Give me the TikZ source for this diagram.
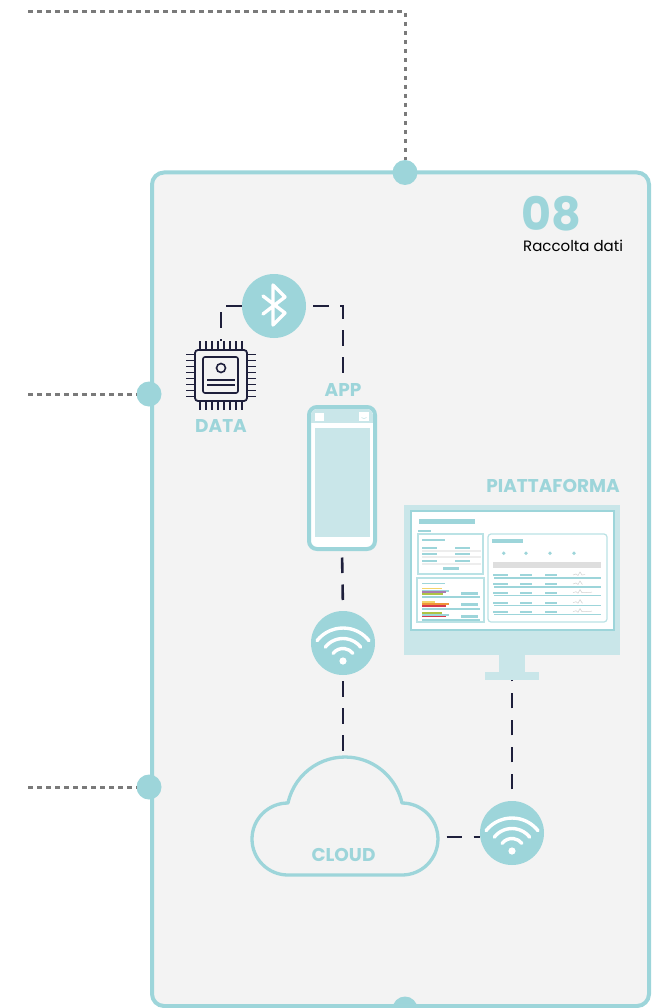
\documentclass[tikz,border=0pt]{standalone}
\usepackage{fontspec}
\setmainfont{Poppins}
\usetikzlibrary{positioning}

\definecolor{aqua}{HTML}{9DD5DA}
\definecolor{aqualight}{HTML}{C9E6E9}
\definecolor{panelgray}{HTML}{F3F3F3}
\definecolor{ink}{HTML}{1E1F3B}
\definecolor{dotgray}{HTML}{7A7A7A}
\definecolor{baryellow}{HTML}{F3D46A}
\definecolor{barpurple}{HTML}{A87DB2}
\definecolor{bargreen}{HTML}{AFC444}
\definecolor{barorange}{HTML}{EF9538}
\definecolor{barred}{HTML}{D63A4C}

\tikzset{
  link/.style={draw=ink,line width=2.6pt,dash pattern=on 15.5pt off 11.5pt},
  trail/.style={draw=dotgray,line width=3pt,dash pattern=on 4.5pt off 4.5pt},
  joint/.style={circle,fill=aqua,minimum size=25pt,inner sep=0pt},
  badge/.style={circle,fill=aqua,minimum size=64pt,inner sep=0pt},
  glyph/.style={white,line width=3.4pt,line cap=round,line join=round},
  tagtext/.style={text=aqua,font=\bfseries\fontsize{18.5}{18.5}\selectfont,inner sep=0pt},
  paneline/.style={aqua,line width=1.6pt},
}

\begin{document}
\begin{tikzpicture}[x=1pt,y=-1pt]
\useasboundingbox (0,0) rectangle (656,1008);

% step panel
\draw[aqua,line width=4pt,fill=panelgray,rounded corners=12pt] (152,172.5) rectangle (649,1006);
\node[joint] (jtop) at (405,172.5) {};
\node[joint] (jdata) at (149,394) {};
\node[joint] (jcloud) at (149,787) {};
\node[joint] (jbottom) at (405,1009) {};

\coordinate (ttop) at (28,12);
\coordinate (tdata) at (28,394);
\coordinate (tcloud) at (28,787);
\draw[trail] (ttop) -| (jtop.north);
\draw[trail] (tdata) -- (jdata.west);
\draw[trail] (tcloud) -- (jcloud.west);

\node[text=aqua,font=\bfseries\fontsize{46}{46}\selectfont,anchor=base west,inner sep=0pt,text depth=0pt] (stepno) at (521,230) {08};
\node[font=\fontsize{15}{15}\selectfont,anchor=base west,inner sep=0pt] (steptitle) at (523,251.5) {Raccolta dati};

% bluetooth
\node[badge] (bt) at (274,306) {};
\begin{scope}[shift={(bt.center)}]
  \draw[glyph] (-11,-10) -- (11,7) -- (-1,19) -- (-1,-21) -- (11,-9) -- (-11,8);
\end{scope}

% chip
\node[draw=ink,line width=1.8pt,rounded corners=3pt,minimum width=52pt,minimum height=51pt,inner sep=0pt] (chip) at (221,375.5) {};
\foreach \d in {-21,-15,-9,-3,3,9,15,21} {
  \draw[ink,line width=1.6pt] ([xshift=\d pt]chip.north) -- ++(0,-8);
  \draw[ink,line width=1.6pt] ([xshift=\d pt]chip.south) -- ++(0,8);
  \draw[ink,line width=1.6pt] ([yshift=\d pt]chip.west) -- ++(-8,0);
  \draw[ink,line width=1.6pt] ([yshift=\d pt]chip.east) -- ++(8,0);
}
\begin{scope}[shift={(chip.center)}]
  \draw[ink,line width=1.6pt,rounded corners=2pt] (-18,-18.5) rectangle (17,17.5);
  \draw[ink,line width=1.6pt] (0,-7.5) circle (4.5);
  \draw[ink,line width=1.6pt] (-14,4.5) -- (14,4.5) (-14,9.5) -- (14,9.5);
\end{scope}
\node[tagtext] (datatag) at (221,426) {DATA};

% phone
\node[tagtext] (apptag) at (343,390) {APP};
\node[draw=aqua,line width=4pt,fill=white,rounded corners=8pt,minimum width=66pt,minimum height=142pt,inner sep=0pt] (phone) at (342,478) {};
\begin{scope}
  \clip[rounded corners=6pt] (311,409) rectangle (373,547);
  \fill[aqualight] (311,409) rectangle (373,423);
  \fill[white] (315,413) rectangle (324,421);
  \fill[white] (359,412) rectangle (369,421);
  \draw[aqualight,line width=0.6pt] (361.5,417.5) .. controls (363,419) and (365,419) .. (366.5,417.5);
  \fill[aqualight] (315,428) rectangle (370,537);
\end{scope}

% wifi badges
\node[badge] (wifia) at (343,643) {};
\node[badge] (wifib) at (512,833) {};
\foreach \w in {wifia,wifib} {
  \begin{scope}[shift={(\w.center)}]
    \fill[white] (0,18) circle (3.6);
    \foreach \r in {12.5,22.5,33}
      \draw[glyph] (0,18) ++(218:\r) arc[start angle=218,end angle=322,radius=\r];
  \end{scope}
}

% cloud
\draw[aqua,line width=3.3pt,line join=round] (288,875) arc[start angle=90,end angle=270,radius=36]
  arc[start angle=192.2,end angle=347.8,radius=58.3]
  arc[start angle=270,end angle=450,radius=36] -- cycle;
\coordinate (cloudtop) at (343,757);
\coordinate (cloudright) at (438,837);
\node[tagtext] (cloudtag) at (343.5,855) {CLOUD};

% monitor
\node[tagtext] (platformtag) at (553,485.5) {PIATTAFORMA};
\node[fill=aqualight,minimum width=216pt,minimum height=150pt,inner sep=0pt] (monitor) at (512,580) {};
\fill[aqualight] (499,655) rectangle (525,673);
\node[fill=aqualight,minimum width=54pt,minimum height=8pt,inner sep=0pt] (stand) at (512,676) {};
\draw[aqua,line width=2.5pt,fill=white] (411,511) rectangle (614,630);

\fill[aqua] (419,519) rectangle (475,524);
\fill[aqua] (418,530) rectangle (431,532);
\draw[aqua!70,line width=1.2pt] (418,534) rectangle (483,574);
\draw[aqua!70,line width=1.2pt] (417,578) rectangle (484,622);
\draw[aqua!70,line width=1.2pt,rounded corners=3pt] (488,534) rectangle (607,622);

\fill[aqua] (422,539) rectangle (445,541);
\foreach \y in {546.7,552.7,560} {
  \fill[aqua] (422,\y) rectangle (437,\y+2);
  \fill[aqua] (455,\y) rectangle (470,\y+2);
  \fill[black!7] (422,\y+3.3) rectangle (481,\y+4.8);
}
\fill[aqua] (443,567) rectangle (459,570);

\fill[aqua] (422,582.7) rectangle (445,584);
\draw[line width=1.6pt,baryellow] (422,588.5) -- (442,588.5);
\draw[paneline] (422,590.7) -- (449,590.7);
\draw[line width=1.6pt,barpurple] (422,592.2) -- (446,592.2);
\draw[line width=1.6pt,bargreen] (422,594.2) -- (443,594.2);
\draw[paneline] (422,597) -- (480,597);
\draw[aqua,line width=3pt] (461,593.5) -- (478,593.5);
\draw[line width=1.6pt,baryellow] (422,602) -- (435,602);
\draw[line width=1.6pt,barorange] (422,604) -- (449,604);
\draw[line width=1.6pt,barred] (422,605.7) -- (446,605.7);
\draw[paneline] (422,608.7) -- (480,608.7);
\draw[aqua,line width=3pt] (461,604.5) -- (478,604.5);
\draw[line width=1.6pt,bargreen] (422,613) -- (442,613);
\draw[paneline] (422,615) -- (449,615);
\draw[line width=1.6pt,barred] (422,616.6) -- (446,616.6);
\draw[paneline] (422,619.7) -- (480,619.7);
\draw[aqua,line width=2.7pt] (461,616.3) -- (478,616.3);

\fill[aqua] (492,539.3) rectangle (523,542.7);
\foreach \x in {503.7,526,550,574}
  \fill[aqua] (\x,553.3) circle (1.9);
\fill[black!13] (493,562) rectangle (601,567.7);
\foreach \y/\s in {574/12,583/9,591.7/19,601.7/9,610.7/19} {
  \fill[aqua] (493,\y) rectangle (508,\y+1.8);
  \fill[aqua] (520,\y) rectangle (532,\y+1.8);
  \fill[aqua] (545,\y) rectangle (557,\y+1.8);
  \draw[paneline] (494,\y+3.8) -- (601,\y+3.8);
  \draw[black!18,line width=0.5pt] (573,\y+1) -- (576,\y) -- (578,\y+1.5) -- (580,\y-2) -- (582,\y+1) -- (573+\s,\y+0.5);
}

% links
\draw[link] (bt.west) -| ([yshift=8pt]chip.north);
\draw[link,dash phase=20pt,shorten >=4pt] (bt.east) -| (apptag.north);
\draw[link,dash phase=20.5pt] (phone.south) -- (wifia.north);
\draw[link,dash phase=21pt] (wifia.south) -- (cloudtop);
\draw[link,dash phase=18.5pt] (cloudright) -- (cloudright -| wifib.west);
\draw[link,dash phase=15.5pt] (wifib.north) -- (stand.south);
\end{tikzpicture}
\end{document}
